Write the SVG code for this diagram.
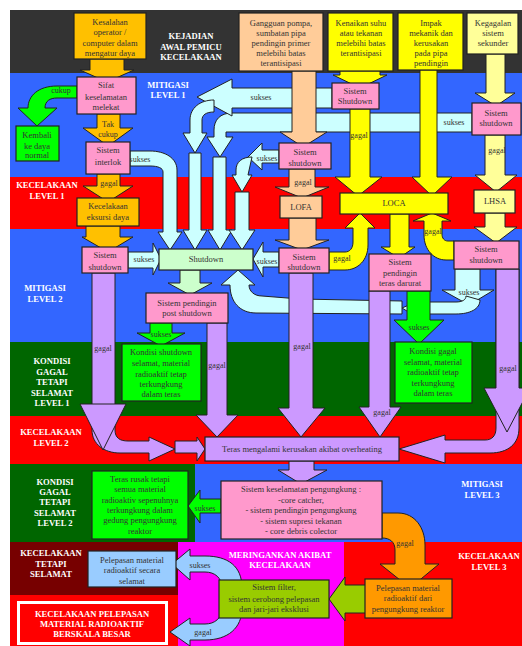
<svg xmlns="http://www.w3.org/2000/svg" width="522" height="646" viewBox="0 0 522 646">
<style>
.t{font-family:"Liberation Serif",serif;font-size:8.5px;fill:#333;text-anchor:middle}
.lb{font-family:"Liberation Serif",serif;font-size:8.6px;font-weight:bold;fill:#fff;text-anchor:middle}
.al{font-family:"Liberation Serif",serif;font-size:8px;fill:#333;text-anchor:middle}
.bx{stroke:#222;stroke-width:1.2}
.ar{stroke:#222;stroke-width:1;stroke-linejoin:miter}
.gold{fill:#FFC000}.pink{fill:#FF99CC}.grn{fill:#00FF00}.lgr{fill:#CCFFCC}.cy{fill:#CCFFFF}
.peach{fill:#FFCC99}.yel{fill:#FFFF00}.lyel{fill:#FFFF99}.lav{fill:#CC99FF}.lblu{fill:#99CCFF}
.olive{fill:#99CC00}.orng{fill:#FF9900}
</style>
<g id="background">
<rect x="0" y="0" width="522" height="646" fill="#fff"/>
<rect x="10" y="10" width="512" height="63" fill="#333"/>
<rect x="10" y="73" width="512" height="104" fill="#3366FF"/>
<rect x="10" y="177" width="512" height="52" fill="#FF0000"/>
<rect x="10" y="229" width="512" height="113" fill="#3366FF"/>
<rect x="10" y="342" width="512" height="74" fill="#006600"/>
<rect x="10" y="416" width="512" height="48" fill="#FF0000"/>
<rect x="10" y="464" width="185" height="78" fill="#006600"/>
<rect x="195" y="464" width="327" height="78" fill="#3366FF"/>
<rect x="10" y="542" width="168" height="53" fill="#770000"/>
<rect x="10" y="595" width="168" height="51" fill="#FF0000"/>
<rect x="178" y="542" width="166" height="104" fill="#FF00FF"/>
<rect x="344" y="542" width="178" height="104" fill="#FF0000"/>
</g>
<g id="band-labels">
<text class="lb" x="191" y="38.5">KEJADIAN</text>
<text class="lb" x="191" y="49.5">AWAL PEMICU</text>
<text class="lb" x="191" y="59.5">KECELAKAAN</text>
<text class="lb" x="168" y="88">MITIGASI</text>
<text class="lb" x="168" y="98">LEVEL 1</text>
<text class="lb" x="47" y="188">KECELAKAAN</text>
<text class="lb" x="47" y="198.5">LEVEL 1</text>
<text class="lb" x="45" y="291">MITIGASI</text>
<text class="lb" x="45" y="301.5">LEVEL 2</text>
<text class="lb" x="52" y="364">KONDISI</text>
<text class="lb" x="52" y="374.5">GAGAL</text>
<text class="lb" x="52" y="385">TETAPI</text>
<text class="lb" x="52" y="395.5">SELAMAT</text>
<text class="lb" x="52" y="406">LEVEL 1</text>
<text class="lb" x="51" y="435">KECELAKAAN</text>
<text class="lb" x="51" y="446">LEVEL 2</text>
<text class="lb" x="55" y="485">KONDISI</text>
<text class="lb" x="55" y="494.5">GAGAL</text>
<text class="lb" x="55" y="505">TETAPI</text>
<text class="lb" x="55" y="515.5">SELAMAT</text>
<text class="lb" x="55" y="525.5">LEVEL 2</text>
<text class="lb" x="482" y="486.5">MITIGASI</text>
<text class="lb" x="482" y="498">LEVEL 3</text>
<text class="lb" x="51" y="556">KECELAKAAN</text>
<text class="lb" x="51" y="566.5">TETAPI</text>
<text class="lb" x="51" y="577">SELAMAT</text>
<text class="lb" x="489" y="559">KECELAKAAN</text>
<text class="lb" x="489" y="569.5">LEVEL 3</text>
<text class="lb" x="280" y="557.5">MERINGANKAN AKIBAT</text>
<text class="lb" x="280" y="568">KECELAKAAN</text>
</g>
<g id="connectors" class="ar">
<path class="cy" d="M472,113 L232,113 C220,113 214,120 214,130 L214,137 L207,137 L220,157 L233,137 L226,137 L226,132 L472,132 Z"/>
<path class="cy" d="M332,88 L232,88 L232,79 L197,97 L232,116 L232,108 L332,108 Z"/>
<path class="cy" d="M214,100 C200,100 190,108 190,120 L190,133 L183,133 L195,153 L207,133 L202,133 L202,120 C202,115 206,112 214,112 Z"/>
<path class="cy" d="M279,150 L262,150 L262,143 L248,157 L262,170 L262,163 L279,163 Z"/>
<path class="cy" d="M252,157 C242,157 236,162 236,170 L236,175 L232,175 L242,192 L252,175 L248,175 Z"/>
<path class="cy" d="M130,151 L150,151 C165,151 177,158 177,170 L177,232 L182,232 L170,250 L158,232 L163,232 L163,172 C163,168 158,166 150,166 L130,166 Z"/>
<path class="cy" d="M189,153 L201,153 L201,230 L207,230 L195,250 L183,230 L189,230 Z"/>
<path class="cy" d="M213,157 L226,157 L226,230 L232,230 L220,250 L208,230 L213,230 Z"/>
<path class="cy" d="M235,192 L249,192 L249,230 L255,230 L242,250 L229,230 L235,230 Z"/>
<path class="cy" d="M128,252 L153,252 L153,243 L161,259 L153,275 L153,268 L128,268 Z"/>
<path class="cy" d="M279,252 L263,252 L263,242 L253,259 L263,277 L263,267 L279,267 Z"/>
<path class="cy" d="M402,301 L300,299 L262,296 C254,296 249,291 249,285 L255,285 L238,270 L221,285 L230,285 C230,302 240,313 256,313 L402,314 Z"/>
<path class="cy" d="M455,269 L480,269 L480,290 L494,290 L469,305 L442,290 L455,290 Z"/>
<path class="cy" d="M480,300 C480,309 470,314 456,314 L425,314 L425,322 L402,308 L425,298 L425,302 L456,302 C462,302 466,300 466,296 Z"/>
<path class="lgr" d="M180,270 L200,270 L200,283 L212,283 L190,295 L168,283 L180,283 Z"/>
<path class="gold" d="M90,59 L124,59 L124,70 L134,70 L107,82 L80,70 L90,70 Z"/>
<path class="gold" d="M97,114 L120,114 L120,128 L133,128 L108,146 L83,128 L97,128 Z"/>
<path class="gold" d="M97,174 L120,174 L120,186 L133,186 L108,202 L83,186 L97,186 Z"/>
<path class="gold" d="M86,226 L120,226 L120,237 L133,237 L108,252 L82,237 L86,237 Z"/>
<path class="grn" d="M77,86 L57,86 C38,86 28,96 28,108 L18,108 L37,126 L57,108 L45,108 C45,101 50,98 57,98 L77,98 Z"/>
<path class="grn" d="M150,323 L172,323 L172,333 L185,333 L161,346 L137,333 L150,333 Z"/>
<path class="grn" d="M407,291 L430,291 L430,320 L444,320 L419,344 L394,320 L407,320 Z"/>
<path class="peach" d="M292,71 L316,71 L316,132 L327,132 L303,147 L280,132 L292,132 Z"/>
<path class="peach" d="M289,169 L315,169 L315,187 L329,187 L302,198 L275,187 L289,187 Z"/>
<path class="peach" d="M289,218 L316,218 L316,240 L329,240 L302,250 L275,240 L289,240 Z"/>
<path class="yel" d="M340,71 L380,71 L380,75 L387,75 L360,88 L333,75 L340,75 Z"/>
<path class="yel" d="M350,109 L370,109 L370,177 L382,177 L358,196 L335,177 L350,177 Z"/>
<path class="yel" d="M420,70 L437,70 L437,177 L452,177 L432,196 L412,177 L420,177 Z"/>
<path class="yel" d="M390,214 L409,214 L409,247 L415,247 L399,258 L381,247 L390,247 Z"/>
<path class="yel" d="M329,252 L345,252 C350,252 353,248 353,242 L353,228 L345,228 L360,213 L375,228 L368,228 L368,245 C368,260 358,270 345,270 L329,270 Z"/>
<path class="yel" d="M454,241 L448,241 C444,241 442,238 442,234 L442,221 L451,221 L432,213 L413,221 L424,221 L424,235 C424,250 434,260 446,260 L454,260 Z"/>
<path class="lyel" d="M486,54 L505,54 L505,93 L515,93 L496,106 L475,93 L486,93 Z"/>
<path class="lyel" d="M485,135 L505,135 L505,175 L517,175 L496,192 L475,175 L485,175 Z"/>
<path class="lyel" d="M485,213 L505,213 L505,227 L517,227 L496,243 L474,227 L485,227 Z"/>
<path class="lav" d="M92,273 L115,273 L115,430 C115,438 120,441 128,441 L149,441 L149,437 L175,449 L149,461 L149,453 L120,453 C104,453 92,444 92,430 Z"/>
<path class="lav" d="M175,441 L197,441 L197,437 L205,449 L197,461 L197,453 L175,453 Z"/>
<path class="lav" d="M92,404 L80,404 L103,450 L126,404 L115,404 Z"/>
<path class="lav" d="M207,323 L227,323 L227,415 L238,415 L217,437 L196,415 L207,415 Z"/>
<path class="lav" d="M289,273 L313,273 L313,408 L325,408 L301,437 L278,408 L289,408 Z"/>
<path class="lav" d="M369,291 L390,291 L390,407 L401,407 L380,437 L359,407 L369,407 Z"/>
<path class="lav" d="M496,269 L519,269 L519,428 C519,444 508,453 490,453 L445,453 L445,463 L399,449 L445,435 L445,440 L485,440 C492,440 496,436 496,428 Z"/>
<path class="lav" d="M496,269 L519,269 L519,388 L530,388 L507,432 L484,388 L496,388 Z"/>
<path class="lav" d="M289,461 L314,461 L314,470 L327,470 L301,484 L278,470 L289,470 Z"/>
<path class="grn" d="M221,499 L200,499 L200,490 L188,506 L200,523 L200,513 L221,513 Z"/>
<path class="orng" d="M382,513 L398,513 C415,513 425,528 425,545 L425,564 L439,564 L410,588 L380,564 L395,564 L395,550 C395,542 390,538 382,538 Z"/>
<path class="olive" d="M366,585 L345,585 L345,577 L329,599 L345,621 L345,613 L366,613 Z"/>
<path class="lblu" d="M242,588 C242,566 228,556 205,556 L190,556 L190,549 L172,564 L190,580 L190,572 L205,572 C215,572 222,578 222,588 Z"/>
<path class="lblu" d="M222,608 C222,618 215,624 205,624 L190,624 L190,618 L170,632 L190,646 L190,640 L205,640 C228,640 242,628 242,608 Z"/>
</g>
<g id="connector-labels">
<text class="al" x="61" y="93">cukup</text>
<text class="al" x="108" y="127">Tak</text>
<text class="al" x="108" y="137">cukup</text>
<text class="al" x="140" y="162">sukses</text>
<text class="al" x="109" y="186">gagal</text>
<text class="al" x="261" y="100">sukses</text>
<text class="al" x="267" y="161">sukses</text>
<text class="al" x="303" y="185">gagal</text>
<text class="al" x="359" y="138">gagal</text>
<text class="al" x="454" y="125">sukses</text>
<text class="al" x="497" y="153">gagal</text>
<text class="al" x="144" y="262">sukses</text>
<text class="al" x="267" y="264">sukses</text>
<text class="al" x="342" y="261">gagal</text>
<text class="al" x="433" y="234">gagal</text>
<text class="al" x="469" y="295">sukses</text>
<text class="al" x="161" y="337">sukses</text>
<text class="al" x="419" y="330">sukses</text>
<text class="al" x="103" y="351">gagal</text>
<text class="al" x="217" y="368">gagal</text>
<text class="al" x="302" y="349">gagal</text>
<text class="al" x="382" y="415">gagal</text>
<text class="al" x="508" y="371">gagal</text>
<text class="al" x="205" y="511">sukses</text>
<text class="al" x="405" y="546">gagal</text>
<text class="al" x="200" y="568">sukses</text>
<text class="al" x="203" y="635">gagal</text>
</g>
<g id="n-kesalahan"><rect class="bx gold" x="74" y="13" width="72" height="46"/><text class="t" x="110" y="25">Kesalahan</text><text class="t" x="110" y="35">operator /</text><text class="t" x="110" y="46">computer dalam</text><text class="t" x="110" y="56">mengatur daya</text></g>
<g id="n-sifat"><rect class="bx pink" x="77" y="77" width="59" height="37"/><text class="t" x="106" y="88">Sifat</text><text class="t" x="106" y="99.5">keselamatan</text><text class="t" x="106" y="110">melekat</text></g>
<g id="n-kembali"><rect class="bx grn" x="16" y="126" width="43" height="35"/><text class="t" x="37" y="138">Kembali</text><text class="t" x="37" y="148.5">ke daya</text><text class="t" x="37" y="158">normal</text></g>
<g id="n-interlok"><rect class="bx pink" x="86" y="142" width="44" height="32"/><text class="t" x="108" y="153">Sistem</text><text class="t" x="108" y="165">interlok</text></g>
<g id="n-eksursi"><rect class="bx gold" x="77" y="198" width="62" height="28"/><text class="t" x="108" y="209">Kecelakaan</text><text class="t" x="108" y="220">eksursi daya</text></g>
<g id="n-shutdown-l2"><rect class="bx pink" x="82" y="247" width="46" height="26"/><text class="t" x="105" y="258">Sistem</text><text class="t" x="105" y="270">shutdown</text></g>
<g id="n-shutdown"><rect class="bx lgr" x="159" y="249" width="94" height="21"/><text class="t" x="206" y="262">Shutdown</text></g>
<g id="n-post"><rect class="bx pink" x="146" y="293" width="82" height="30"/><text class="t" x="187" y="306">Sistem pendingin</text><text class="t" x="187" y="316">post shutdown</text></g>
<g id="n-kondisi1"><rect class="bx grn" x="122" y="344" width="79" height="57"/><text class="t" x="161" y="355">Kondisi shutdown</text><text class="t" x="161" y="366">selamat, material</text><text class="t" x="161" y="377">radioaktif tetap</text><text class="t" x="161" y="387">terkungkung</text><text class="t" x="161" y="397">dalam teras</text></g>
<g id="n-gangguan"><rect class="bx peach" x="239" y="13" width="84" height="58"/><text class="t" x="281" y="26">Gangguan pompa,</text><text class="t" x="281" y="36">sumbatan pipa</text><text class="t" x="281" y="46">pendingin primer</text><text class="t" x="281" y="56">melebihi batas</text><text class="t" x="281" y="66">terantisipasi</text></g>
<g id="n-kenaikan"><rect class="bx yel" x="328" y="13" width="65" height="58"/><text class="t" x="361" y="26">Kenaikan suhu</text><text class="t" x="361" y="36">atau tekanan</text><text class="t" x="361" y="46">melebihi batas</text><text class="t" x="361" y="56">terantisipasi</text></g>
<g id="n-impak"><rect class="bx yel" x="398" y="13" width="65" height="57"/><text class="t" x="431" y="26">Impak</text><text class="t" x="431" y="36">mekanik  dan</text><text class="t" x="431" y="46">kerusakan</text><text class="t" x="431" y="56">pada pipa</text><text class="t" x="431" y="66">pendingin</text></g>
<g id="n-kegagalan"><rect class="bx lyel" x="467" y="13" width="51" height="41"/><text class="t" x="493" y="26">Kegagalan</text><text class="t" x="493" y="36">sistem</text><text class="t" x="493" y="46">sekunder</text></g>
<g id="n-shutdown-a"><rect class="bx pink" x="332" y="83" width="47" height="26"/><text class="t" x="355" y="94">Sistem</text><text class="t" x="355" y="104">Shutdown</text></g>
<g id="n-shutdown-b"><rect class="bx pink" x="279" y="143" width="52" height="26"/><text class="t" x="305" y="155">Sistem</text><text class="t" x="305" y="166">shutdown</text></g>
<g id="n-shutdown-c"><rect class="bx pink" x="472" y="103" width="49" height="32"/><text class="t" x="496" y="116">Sistem</text><text class="t" x="496" y="126">shutdown</text></g>
<g id="n-lofa"><rect class="bx peach" x="280" y="196" width="42" height="22"/><text class="t" x="301" y="210">LOFA</text></g>
<g id="n-loca"><rect class="bx yel" x="340" y="193" width="108" height="21"/><text class="t" x="394" y="206">LOCA</text></g>
<g id="n-lhsa"><rect class="bx lyel" x="474" y="190" width="41" height="23"/><text class="t" x="495" y="204">LHSA</text></g>
<g id="n-shutdown-lofa"><rect class="bx pink" x="279" y="248" width="50" height="25"/><text class="t" x="304" y="260">Sistem</text><text class="t" x="304" y="270">shutdown</text></g>
<g id="n-darurat"><rect class="bx pink" x="369" y="254" width="62" height="37"/><text class="t" x="400" y="265">Sistem</text><text class="t" x="400" y="276">pendingin</text><text class="t" x="400" y="286">teras darurat</text></g>
<g id="n-shutdown-d"><rect class="bx pink" x="454" y="241" width="65" height="28"/><text class="t" x="486" y="252">Sistem</text><text class="t" x="486" y="263">shutdown</text></g>
<g id="n-kondisi2"><rect class="bx grn" x="395" y="342" width="77" height="61"/><text class="t" x="433" y="354">Kondisi gagal</text><text class="t" x="433" y="364.5">selamat, material</text><text class="t" x="433" y="375">radioaktif tetap</text><text class="t" x="433" y="386">terkungkung</text><text class="t" x="433" y="396">dalam teras</text></g>
<g id="n-teras"><rect class="bx lav" x="205" y="437" width="194" height="24"/><text class="t" x="302" y="452">Teras mengalami kerusakan akibat overheating</text></g>
<g id="n-keselamatan"><rect class="bx pink" x="221" y="481" width="161" height="58"/><text class="t" x="301" y="492">Sistem keselamatan pengungkung :</text><text class="t" x="301" y="503">-core catcher,</text><text class="t" x="301" y="513">- sistem pendingin pengungkung</text><text class="t" x="301" y="523.5">- sistem supresi tekanan</text><text class="t" x="301" y="534">- core debris colector</text></g>
<g id="n-teras-rusak"><rect class="bx grn" x="92" y="471" width="96" height="68"/><text class="t" x="140" y="482">Teras rusak tetapi</text><text class="t" x="140" y="492">semua material</text><text class="t" x="140" y="503">radioaktiv sepenuhnya</text><text class="t" x="140" y="513">terkungkung dalam</text><text class="t" x="140" y="523">gedung pengungkung</text><text class="t" x="140" y="534">reaktor</text></g>
<g id="n-pelepasan-selamat"><rect class="bx lblu" x="88" y="551" width="88" height="36"/><text class="t" x="132" y="563">Pelepasan material</text><text class="t" x="132" y="573">radioaktif secara</text><text class="t" x="132" y="584">selamat</text></g>
<g id="n-filter"><rect class="bx olive" x="219" y="580" width="110" height="38"/><text class="t" x="274" y="590">Sistem filter,</text><text class="t" x="274" y="602">sistem cerobong pelepasan</text><text class="t" x="274" y="612">dan jari-jari eksklusi</text></g>
<g id="n-pelepasan-pengungkung"><rect class="bx orng" x="365" y="579" width="87" height="39"/><text class="t" x="408" y="591">Pelepasan material</text><text class="t" x="408" y="601">radioaktif dari</text><text class="t" x="408" y="612">pengungkung reaktor</text></g>
<g id="n-besar"><rect x="18.5" y="602.5" width="148" height="41" fill="#FF0000" stroke="#fff" stroke-width="3"/><text class="lb" x="92" y="616.5">KECELAKAAN PELEPASAN</text><text class="lb" x="92" y="626.5">MATERIAL RADIOAKTIF</text><text class="lb" x="92" y="636.5">BERSKALA BESAR</text></g>
</svg>
